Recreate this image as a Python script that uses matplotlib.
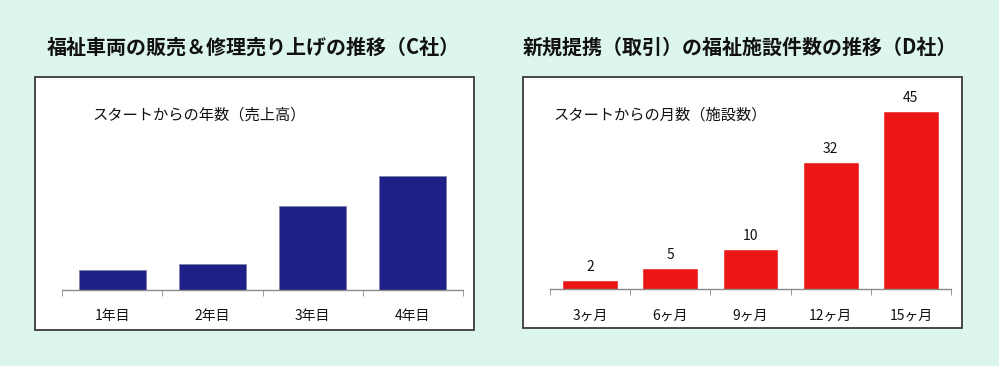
import matplotlib.pyplot as plt
from matplotlib.patches import Rectangle

plt.rcParams['font.family'] = ['Noto Sans CJK JP', 'DejaVu Sans']

# データ
left_title = '福祉車両の販売＆修理売り上げの推移（C社）'
left_subtitle = 'スタートからの年数（売上高）'
left_labels = ['1年目', '2年目', '3年目', '4年目']
left_values = [1.0, 1.3, 4.2, 5.7]  # 相対値（数値は表示なし）

right_title = '新規提携（取引）の福祉施設件数の推移（D社）'
right_subtitle = 'スタートからの月数（施設数）'
right_labels = ['3ヶ月', '6ヶ月', '9ヶ月', '12ヶ月', '15ヶ月']
right_values = [2, 5, 10, 32, 45]

W, H = 999, 366
bg = '#ddf5ef'
fig = plt.figure(figsize=(W / 100, H / 100), dpi=100, facecolor=bg)


def px_box(x0, y0, x1, y1):
    # ピクセル座標 -> figure座標
    return [x0 / W, 1 - y1 / H, (x1 - x0) / W, (y1 - y0) / H]


def panel(box, ax_rect, title, title_x, subtitle, sub_x, labels, values, color, edge, ymax, show_values):
    b = px_box(*box)
    fig.patches.append(Rectangle((b[0], b[1]), b[2], b[3], transform=fig.transFigure,
                                 facecolor='white', edgecolor='#3a3a3a', linewidth=1.3,
                                 zorder=-5))
    fig.text(title_x / W, 1 - 47 / H, title, ha='center', va='center',
             fontsize=14.4, fontweight='bold', color='#111111')
    fig.text(sub_x / W, 1 - 115 / H, subtitle, ha='left', va='center',
             fontsize=11, color='#111111')

    ax = fig.add_axes(px_box(*ax_rect))
    ax.patch.set_alpha(0)
    n = len(values)
    x = list(range(n))
    bars = ax.bar(x, values, width=0.67, color=color, edgecolor=edge, linewidth=0.4)
    ax.set_xlim(-0.5, n - 0.5)
    ax.set_ylim(0, ymax)
    for s in ['top', 'left', 'right']:
        ax.spines[s].set_visible(False)
    ax.spines['bottom'].set_color('#8a8a8a')
    ax.spines['bottom'].set_linewidth(1.0)
    ax.set_yticks([])
    ax.set_xticks(x)
    ax.set_xticklabels(labels, fontsize=10, color='#111111')
    ax.tick_params(axis='x', which='major', length=0, pad=14)
    ax.set_xticks([i - 0.5 for i in range(n + 1)], minor=True)
    ax.tick_params(axis='x', which='minor', length=4, color='#8a8a8a', direction='out')
    if show_values:
        for r, v in zip(bars, values):
            ax.annotate(str(v), (r.get_x() + r.get_width() / 2, v), xytext=(0, 5),
                        textcoords='offset points', ha='center', va='bottom',
                        fontsize=10, color='#111111', annotation_clip=False)
    return ax


panel((35, 77, 474, 330), (62, 100, 463, 290), left_title, 253, left_subtitle, 92,
      left_labels, left_values, '#1e2088', '#7a7a9a', 9.5, False)
panel((523, 77, 962, 328), (550, 99, 951, 289), right_title, 740, right_subtitle, 553,
      right_labels, right_values, '#ec1616', '#ec1616', 190 / 3.94, True)

fig.savefig('out.png', dpi=100, facecolor=bg)
